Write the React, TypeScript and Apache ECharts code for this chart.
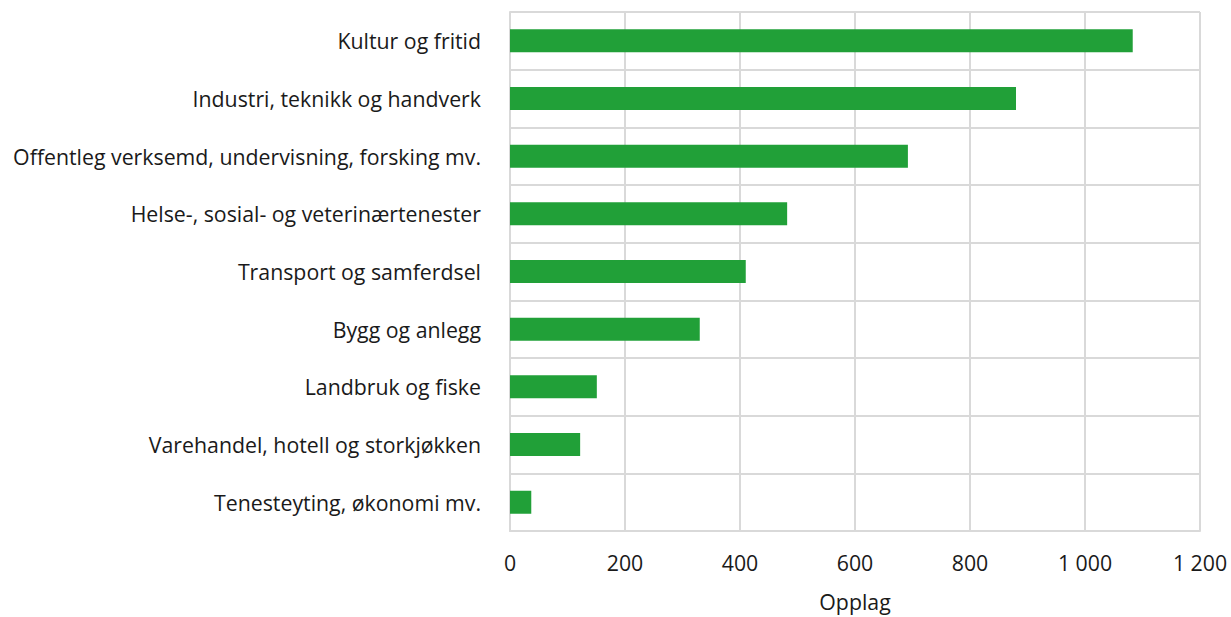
import React, { useEffect, useRef } from "react";
import * as echarts from "echarts";

const categories = [
  "Kultur og fritid",
  "Industri, teknikk og handverk",
  "Offentleg verksemd, undervisning, forsking mv.",
  "Helse-, sosial- og veterinærtenester",
  "Transport og samferdsel",
  "Bygg og anlegg",
  "Landbruk og fiske",
  "Varehandel, hotell og storkjøkken",
  "Tenesteyting, økonomi mv.",
];
const values = [1083, 880, 692, 482, 410, 330, 151, 122, 37];
const axisName = "Opplag";

export default function App() {
  const ref = useRef<HTMLDivElement>(null);
  useEffect(() => {
    if (!ref.current) return;
    const chart = echarts.init(ref.current, undefined, { renderer: "svg" });
    const font = "'Open Sans', 'Noto Sans', sans-serif";
    const grey = "#d9d9d9";
    const fs = 21.3;
    chart.setOption({
      animation: false,
      textStyle: { fontFamily: font },
      grid: { left: 510, top: 12, width: 690, height: 523, containLabel: false },
      xAxis: {
        type: "value",
        min: 0,
        max: 1200,
        interval: 200,
        name: axisName,
        nameLocation: "middle",
        nameGap: 60,
        nameTextStyle: { fontFamily: font, fontSize: fs, color: "#1a1a1a" },
        axisLine: { show: true, lineStyle: { color: grey, width: 2 } },
        axisTick: { show: false },
        axisLabel: {
          fontFamily: font,
          fontSize: fs,
          color: "#1a1a1a",
          margin: 21,
          formatter: (v: number) => String(v).replace(/\B(?=(\d{3})+(?!\d))/g, " "),
        },
        splitLine: { show: true, lineStyle: { color: grey, width: 2 } },
      },
      yAxis: {
        type: "category",
        data: categories,
        inverse: true,
        axisLine: { show: true, lineStyle: { color: grey, width: 2 } },
        axisTick: { show: false },
        axisLabel: { fontFamily: font, fontSize: fs, color: "#1a1a1a", margin: 29 },
        splitLine: { show: true, lineStyle: { color: grey, width: 2 } },
      },
      series: [
        {
          type: "bar",
          data: values,
          barWidth: 23,
          itemStyle: { color: "#21a038" },
        },
      ],
    });
    return () => chart.dispose();
  }, []);
  return (
    <div
      ref={ref}
      style={{ position: "absolute", left: 0, top: 0, width: 1231, height: 617 }}
    />
  );
}
